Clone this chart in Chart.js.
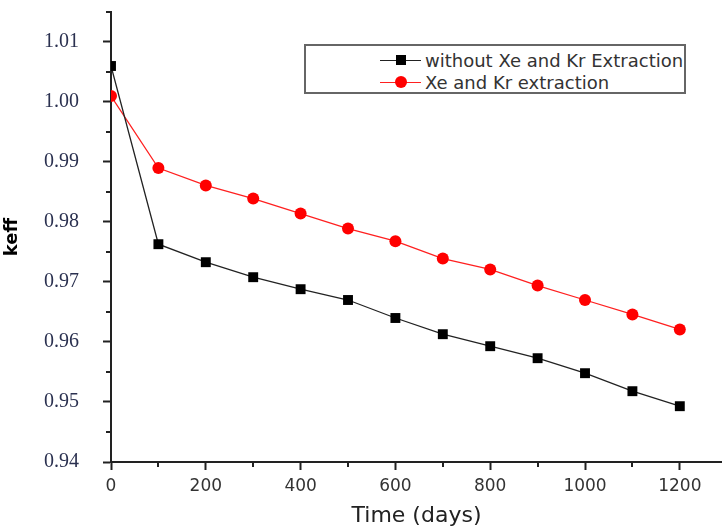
<!DOCTYPE html>
<html>
<head>
<meta charset="utf-8">
<script src="https://cdn.jsdelivr.net/npm/chart.js@4/dist/chart.umd.min.js"></script>
<style>
  html, body { margin: 0; padding: 0; background: #fff; }
  #wrap { position: relative; width: 722px; height: 532px; }
  #legend { position: absolute; left: 304px; top: 44px; width: 378px; height: 46px;
            border: 2px solid #666; background: #fff; box-sizing: content-box; }
  .row { position: absolute; left: 0; height: 22px; display: flex; align-items: center; }
  .sample { position: relative; width: 41px; height: 22px; margin-left: 74px; }
  .sample .ln { position: absolute; left: 0; right: 0; top: 11px; height: 1px; }
  .sample .mk { position: absolute; }
  .txt { font-family: "DejaVu Sans", sans-serif; font-size: 18px; color: #333; margin-left: 4px; white-space: nowrap; }
</style>
</head>
<body>
<div id="wrap">
  <canvas id="c" width="722" height="532"></canvas>
  <div id="legend"></div>
</div>
<script>
// ---- data ----
const days = [0, 100, 200, 300, 400, 500, 600, 700, 800, 900, 1000, 1100, 1200];
const withoutExtraction = [1.0060, 0.9763, 0.9733, 0.9708, 0.9688, 0.9670, 0.9640, 0.9613, 0.9593, 0.9573, 0.9548, 0.9518, 0.9493];
const withExtraction    = [1.0010, 0.9890, 0.9861, 0.9839, 0.9814, 0.9789, 0.9768, 0.9739, 0.9721, 0.9694, 0.9670, 0.9646, 0.9621];
const seriesLabels = ["without Xe and Kr Extraction", "Xe and Kr extraction"];
const xMajorTicks = [0, 200, 400, 600, 800, 1000, 1200];
const xMinorTicks = [100, 300, 500, 700, 900, 1100];
const yMajorTicks = [0.94, 0.95, 0.96, 0.97, 0.98, 0.99, 1.00, 1.01];
const yMinorTicks = [0.945, 0.955, 0.965, 0.975, 0.985, 0.995, 1.005, 1.015];
const xTitle = "Time (days)";
const yTitle = "keff";

const toPoints = (xs, ys) => xs.map((x, i) => ({ x: x, y: ys[i] }));

const minorTicks = {
  id: 'minorTicks',
  afterDraw(chart) {
    const ctx = chart.ctx;
    const xs = chart.scales.x, ys = chart.scales.y;
    const area = chart.chartArea;
    ctx.save();
    ctx.strokeStyle = '#222';
    ctx.lineWidth = 2;
    ctx.beginPath();
    xMinorTicks.forEach(v => {
      const px = Math.round(xs.getPixelForValue(v));
      ctx.moveTo(px, area.bottom);
      ctx.lineTo(px, area.bottom + 5);
    });
    yMinorTicks.forEach(v => {
      const py = Math.round(ys.getPixelForValue(v));
      ctx.moveTo(area.left, py);
      ctx.lineTo(area.left - 5, py);
    });
    ctx.stroke();
    ctx.restore();
  }
};

const chart = new Chart(document.getElementById('c'), {
  type: 'line',
  data: {
    datasets: [
      {
        label: seriesLabels[0],
        data: toPoints(days, withoutExtraction),
        borderColor: '#222',
        backgroundColor: '#000',
        borderWidth: 1.3,
        pointStyle: 'rect',
        pointRadius: 7,
        pointBorderWidth: 0,
        pointBackgroundColor: '#000',
        tension: 0
      },
      {
        label: seriesLabels[1],
        data: toPoints(days, withExtraction),
        borderColor: '#ff2020',
        backgroundColor: '#ff0000',
        borderWidth: 1.3,
        pointStyle: 'circle',
        pointRadius: 6,
        pointBorderWidth: 0,
        pointBackgroundColor: '#ff0000',
        tension: 0
      }
    ]
  },
  options: {
    responsive: false,
    animation: false,
    layout: { autoPadding: false, padding: { left: 0, right: 0, top: 12, bottom: 0 } },
    plugins: { legend: { display: false }, tooltip: { enabled: false } },
    scales: {
      x: {
        type: 'linear',
        min: 0,
        max: 1289,
        afterBuildTicks: s => { s.ticks = xMajorTicks.map(v => ({ value: v })); },
        afterFit: s => { s.height = 70; s.paddingLeft = 0; s.paddingRight = 0; },
        grid: { display: true, drawOnChartArea: false, tickLength: 8, tickWidth: 2, tickColor: '#222' },
        border: { display: true, color: '#222', width: 2 },
        ticks: {
          padding: 6,
          color: '#333',
          font: { family: 'DejaVu Sans', size: 17 },
          callback: v => String(v),
          maxRotation: 0
        },
        title: {
          display: true,
          text: xTitle,
          color: '#222',
          font: { family: 'DejaVu Sans', size: 22 },
          padding: { top: 0, bottom: 3 }
        }
      },
      y: {
        type: 'linear',
        min: 0.94,
        max: 1.015,
        afterBuildTicks: s => { s.ticks = yMajorTicks.map(v => ({ value: v })); },
        afterFit: s => { s.width = 111; s.paddingTop = 0; s.paddingBottom = 0; },
        grid: { display: true, drawOnChartArea: false, tickLength: 8, tickWidth: 2, tickColor: '#222' },
        border: { display: true, color: '#222', width: 2 },
        ticks: {
          padding: 24,
          color: '#2b3150',
          font: { family: 'Liberation Serif', size: 20 },
          callback: v => Number(v).toFixed(2)
        },
        title: {
          display: true,
          text: yTitle,
          color: '#000',
          font: { family: 'DejaVu Sans', size: 18, weight: 'bold' },
          padding: { top: 2, bottom: 0 }
        }
      }
    }
  },
  plugins: [minorTicks]
});

// HTML legend built from the chart's datasets
const legend = document.getElementById('legend');
chart.data.datasets.forEach((ds, i) => {
  const row = document.createElement('div');
  row.className = 'row';
  row.style.top = (3 + i * 22) + 'px';
  const sample = document.createElement('div');
  sample.className = 'sample';
  const ln = document.createElement('div');
  ln.className = 'ln';
  ln.style.background = ds.borderColor;
  const mk = document.createElement('div');
  mk.className = 'mk';
  if (ds.pointStyle === 'rect') {
    mk.style.cssText = 'left:16px;top:6px;width:10px;height:10px;background:' + ds.pointBackgroundColor;
  } else {
    mk.style.cssText = 'left:15px;top:5px;width:12px;height:12px;border-radius:50%;background:' + ds.pointBackgroundColor;
  }
  sample.appendChild(ln);
  sample.appendChild(mk);
  const txt = document.createElement('span');
  txt.className = 'txt';
  txt.textContent = ds.label;
  row.appendChild(sample);
  row.appendChild(txt);
  legend.appendChild(row);
});
</script>
</body>
</html>
